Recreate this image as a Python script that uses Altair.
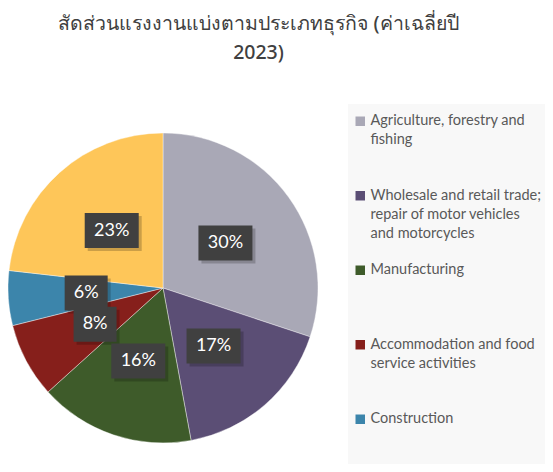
import json
import altair as alt
import pandas as pd

categories = [
    "Agriculture, forestry and fishing",
    "Wholesale and retail trade; repair of motor vehicles and motorcycles",
    "Manufacturing",
    "Accommodation and food service activities",
    "Construction",
    "Others",
]
shares = [30.1, 17.0, 16.2, 7.8, 5.7, 23.2]
colors = ["#A9A8B6", "#5B4E75", "#3E5B2A", "#861F1B", "#3C85AB", "#FEC659"]
legend_lines = {
    categories[0]: ["Agriculture, forestry and", "fishing", " "],
    categories[1]: ["Wholesale and retail trade;", "repair of motor vehicles", "and motorcycles"],
    categories[2]: ["Manufacturing", " ", " "],
    categories[3]: ["Accommodation and food", "service activities", " "],
    categories[4]: ["Construction", " ", " "],
}
title_lines = ["สัดส่วนแรงงานแบ่งตามประเภทธุรกิจ (ค่าเฉลี่ยปี", "2023)"]

df = pd.DataFrame({"category": categories, "share": shares, "order": list(range(len(categories)))})

CX, CY, R, LR = 155, 218, 155, 77
TOP = 62
W, H = 537, 456 - TOP

label_expr = json.dumps(legend_lines, ensure_ascii=False) + "[datum.label]"

base = alt.Chart(df)

pie = base.mark_arc(radius=R, stroke="#ffffff", strokeWidth=0.4).encode(
    theta=alt.Theta("share:Q", stack=True),
    order=alt.Order("order:Q"),
    color=alt.Color(
        "category:N",
        scale=alt.Scale(domain=categories, range=colors),
        legend=alt.Legend(
            orient="none",
            legendX=340,
            legendY=34,
            title=None,
            values=categories[:5],
            fillColor="#F8F8F8",
            padding=10,
            symbolType="square",
            symbolSize=90,
            symbolStrokeWidth=0,
            symbolOffset=-5,
            labelFont="Lato",
            labelFontSize=14.5,
            labelColor="#595959",
            labelLimit=400,
            labelOffset=3,
            rowPadding=21.5,
            labelExpr=label_expr,
        ),
    ),
    x=alt.value(CX),
    y=alt.value(CY),
)

geo = (
    base.transform_window(cum="sum(share)", sort=[alt.SortField("order")], frame=[None, 0])
    .transform_joinaggregate(total="sum(share)")
    .transform_calculate(mid="(datum.cum - datum.share / 2) / datum.total * 2 * PI")
    .transform_calculate(
        lx=f"{CX} + {LR} * sin(datum.mid)",
        ly=f"{CY} - {LR} * cos(datum.mid)",
        txt="format(datum.share, '.0f') + '%'",
    )
    .transform_calculate(hw="length(datum.txt) > 2 ? 27 : 21.5")
    .transform_calculate(
        x1="datum.lx - datum.hw",
        x2="datum.lx + datum.hw",
        y1="datum.ly - 17.5",
        y2="datum.ly + 17.5",
        sx1="datum.lx - datum.hw + 3",
        sx2="datum.lx + datum.hw + 3",
        sy1="datum.ly - 17.5 + 3",
        sy2="datum.ly + 17.5 + 3",
    )
)

shadow = geo.mark_rect(color="#000000", opacity=0.2).encode(
    x=alt.X("sx1:Q", scale=None), x2="sx2:Q",
    y=alt.Y("sy1:Q", scale=None), y2="sy2:Q",
)
boxes = geo.mark_rect(color="#404040").encode(
    x=alt.X("x1:Q", scale=None), x2="x2:Q",
    y=alt.Y("y1:Q", scale=None), y2="y2:Q",
)
texts = geo.mark_text(font="Lato", fontSize=18, color="#FFFFFF", baseline="middle", align="center").encode(
    x=alt.X("lx:Q", scale=None),
    y=alt.Y("ly:Q", scale=None),
    text="txt:N",
)

chart = (
    alt.layer(pie, shadow, boxes, texts)
    .properties(
        width=W,
        height=H,
        autosize=alt.AutoSizeParams(type="none"),
        padding={"top": TOP, "left": 0, "right": 0, "bottom": 0},
        title=alt.TitleParams(
            text=title_lines,
            anchor="middle",
            dx=-18,
            font="Noto Sans",
            fontSize=19.5,
            lineHeight=29,
            color="#404040",
            fontWeight=500,
            offset=7,
        ),
    )
    .configure(
        view=alt.ViewConfig(strokeWidth=0),
        style={"guide-label": {"lineHeight": 19}},
    )
)

chart.save("out.html", embed_options={"renderer": "svg", "actions": False})
